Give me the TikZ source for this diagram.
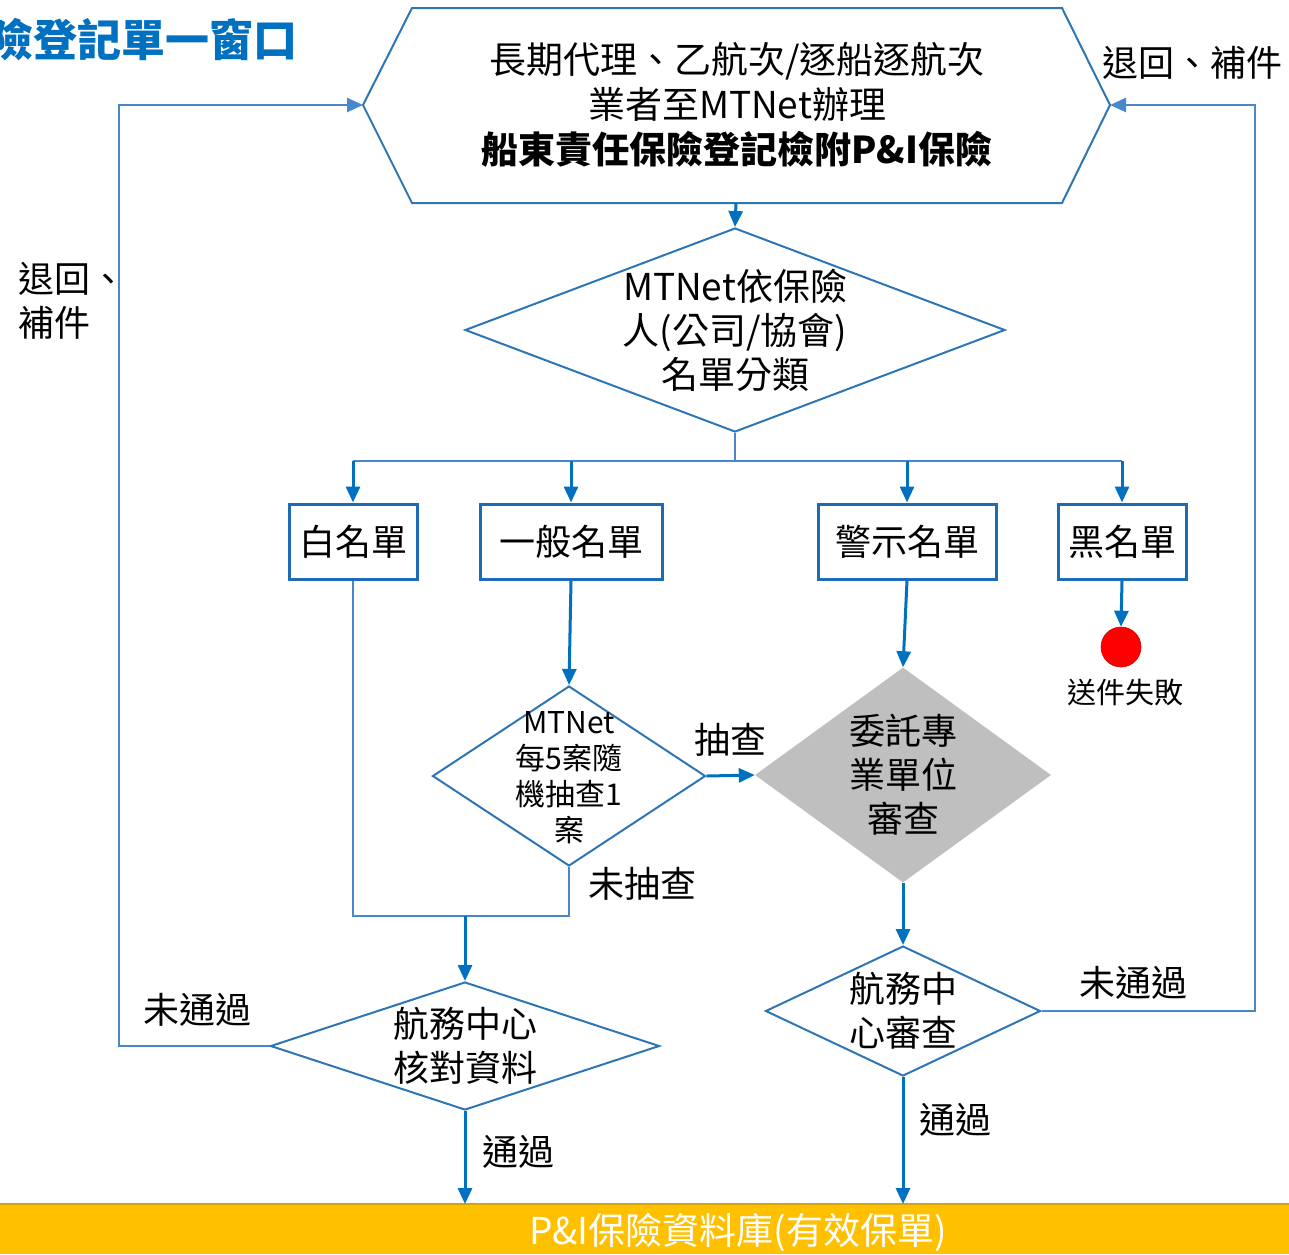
\documentclass[tikz,border=0pt]{standalone}
\usepackage{fontspec}
\setmainfont{Noto Sans CJK TC}
\usetikzlibrary{shapes.geometric,arrows.meta}
\definecolor{titleblue}{HTML}{0070C0}
\definecolor{cblue}{HTML}{0070C0}
\definecolor{lblue}{HTML}{4A86CC}
\definecolor{sblue}{HTML}{2E75B6}
\definecolor{bblue}{HTML}{1E6BB5}
\definecolor{grayfill}{HTML}{BFBFBF}
\definecolor{barfill}{HTML}{FFC000}
\definecolor{barline}{HTML}{D4A20A}
\definecolor{redfill}{HTML}{FF0000}
\begin{document}
\begin{tikzpicture}[x=1pt,y=-1pt,
  conn/.style={draw=cblue, line width=3pt, -{Triangle[length=16pt,width=14pt]}},
  thin/.style={draw=lblue, line width=2pt},
  thinarrow/.style={draw=lblue, line width=2.5pt, -{Triangle[length=16pt,width=14pt]}},
  boxnode/.style={draw=bblue, line width=3pt, minimum height=75pt, inner sep=0pt, font=\fontsize{36}{44}\selectfont},
  dia/.style={diamond, draw=sblue, line width=2pt, inner sep=0pt},
  txt/.style={inner sep=0pt, align=center, font=\fontsize{36}{44}\selectfont},
  lbl/.style={inner sep=0pt, font=\fontsize{36}{44}\selectfont},
]
\useasboundingbox (0,0) rectangle (1289,1254);

% title
\node[inner sep=0pt, anchor=east, text=titleblue, font=\fontsize{44}{50}\bfseries\selectfont] (title) at (298,40) {險登記單一窗口};

% hexagon
\coordinate (hexL) at (363,105);
\coordinate (hexR) at (1110,105);
\coordinate (hexB) at (736,203);
\draw[draw=sblue, line width=2pt] (412,8) -- (1062,8) -- (hexR) -- (1062,203) -- (412,203) -- (hexL) -- cycle;
\node[txt, font=\fontsize{37}{45}\selectfont] (hex) at (737,105) {長期代理、乙航次/逐船逐航次\\業者至MTNet辦理\\{\bfseries 船東責任保險登記檢附P\&I保險}};

% classification diamond
\node[dia, minimum width=540pt, minimum height=204pt] (d1) at (735,330) {};
\node[txt, font=\fontsize{37}{44}\selectfont] at (d1) {MTNet依保險\\人(公司/協會)\\名單分類};
\draw[conn] (hexB) -- (d1.north);

% boxes
\node[boxnode, minimum width=128pt] (white) at (353,541.5) {白名單};
\node[boxnode, minimum width=182pt] (normal) at (571,541.5) {一般名單};
\node[boxnode, minimum width=178pt] (warn) at (907,541.5) {警示名單};
\node[boxnode, minimum width=128pt] (black) at (1122,541.5) {黑名單};

% split
\coordinate (split) at (735,461);
\draw[thin] (d1.south) -- (split);
\draw[thin] (white.north |- split) -- (black.north |- split);
\draw[conn] (white.north |- split) -- (white.north);
\draw[conn] (normal.north |- split) -- (normal.north);
\draw[conn] (warn.north |- split) -- (warn.north);
\draw[conn] (black.north |- split) -- (black.north);

% fail
\node[circle, fill=redfill, draw=red!80!black, line width=0.6pt, minimum size=40pt, inner sep=0pt] (fail) at (1121,647) {};
\node[lbl, font=\fontsize{29}{34}\selectfont] (failtxt) at (1125,692) {送件失敗};
\draw[conn] (black.south) -- (fail.north);

% random check diamond
\node[dia, minimum width=273pt, minimum height=180pt] (d2) at (569,776) {};
\node[txt, font=\fontsize{30}{36}\selectfont] at (569,778) {MTNet\\每5案隨\\機抽查1\\案};
\draw[conn] (normal.south) -- (d2.north);

% gray diamond
\node[diamond, fill=grayfill, inner sep=0pt, minimum width=296pt, minimum height=215pt] (d3) at (903,775) {};
\node[txt] at (d3) {委託專\\業單位\\審查};
\draw[conn] (warn.south) -- (d3.north);
\draw[conn] (d2.east) -- (d3.west);
\node[lbl] (chk) at (730,740) {抽查};

% merge
\coordinate (merge) at (569,916);
\draw[thin] (white.south) -- (white.south |- merge) -- (merge) -- (d2.south);
\node[lbl] (nochk) at (642,884) {未抽查};

% verification diamond (left)
\node[dia, minimum width=389pt, minimum height=128pt] (d4) at (465,1046) {};
\node[txt] at (d4) {航務中心\\核對資料};
\coordinate (m2) at (465,916);
\draw[conn] (m2) -- (d4.north);

% review diamond (right)
\node[dia, minimum width=275pt, minimum height=130pt] (d5) at (903,1011) {};
\node[txt] at (903,1011) {航務中\\心審查};
\draw[conn] (d3.south) -- (d5.north);

% database bar
\fill[barfill] (0,1204) rectangle (1289,1254);
\draw[barline, line width=2pt] (0,1204) -- (1289,1204);
\node[lbl, text=white, font=\fontsize{37}{44}\selectfont] (db) at (738,1232) {P\&I保險資料庫(有效保單)};
\coordinate (dbL) at (465,1204);
\coordinate (dbR) at (903,1204);
\draw[conn] (d4.south) -- (dbL);
\draw[conn] (d5.south) -- (dbR);
\node[lbl] (pass1) at (518,1152) {通過};
\node[lbl] (pass2) at (955,1120) {通過};

% return loops
\draw[thinarrow] (d4.west) -- (119,1046) -- (119,105) -- (hexL);
\draw[thinarrow] (d5.east) -- (1255,1011) -- (1255,105) -- (hexR);
\node[lbl] (fail1) at (197,1010) {未通過};
\node[lbl] (fail2) at (1133,983) {未通過};
\node[lbl, anchor=west, align=left] (ret1) at (18,301) {退回、\\補件};
\node[lbl] (ret2) at (1192,63) {退回、補件};
\end{tikzpicture}
\end{document}
